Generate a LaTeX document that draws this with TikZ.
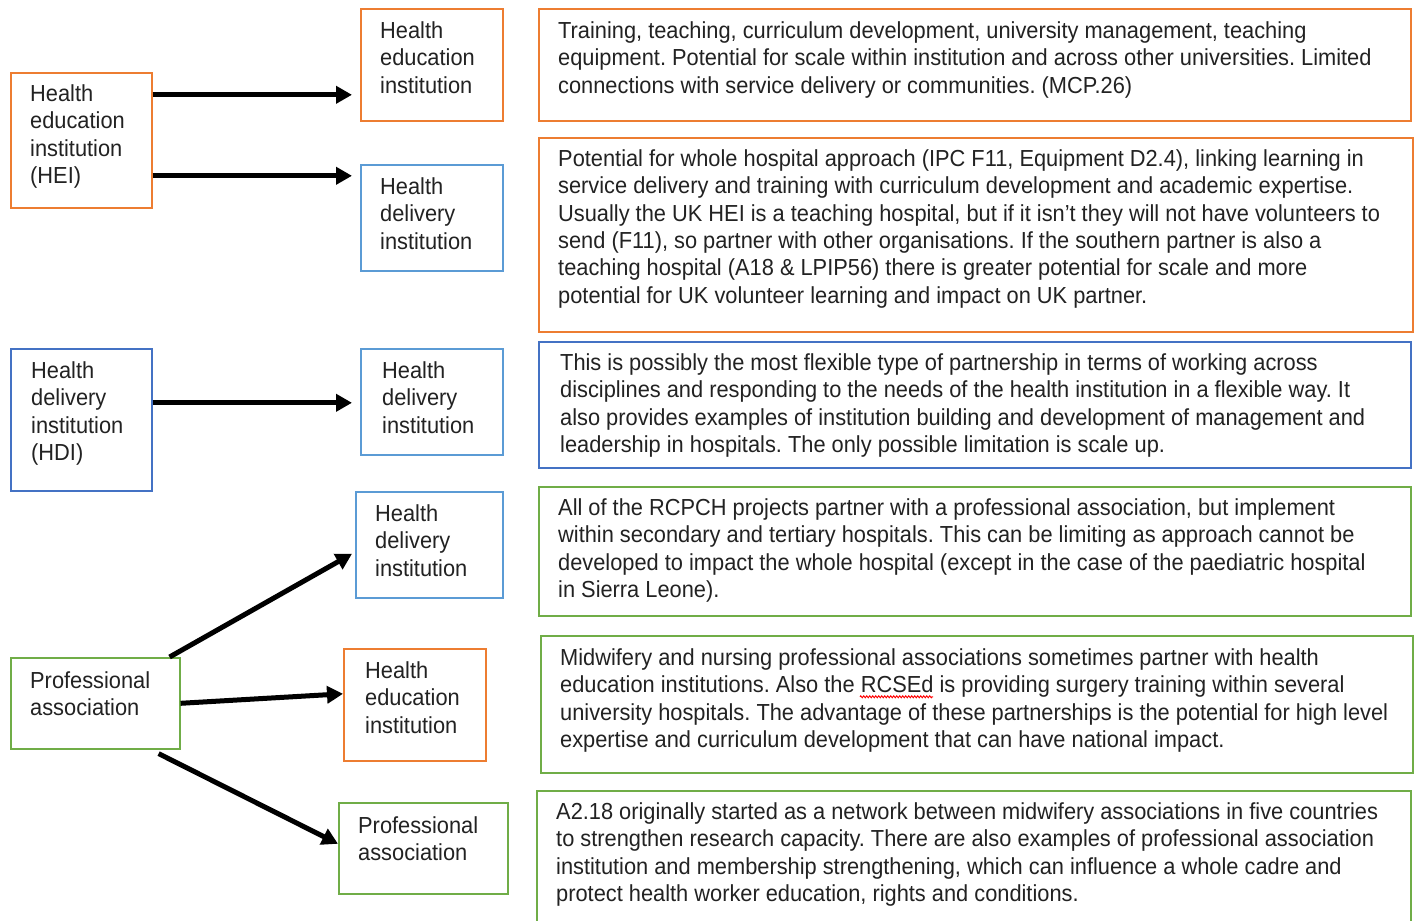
\documentclass[tikz,border=0pt]{standalone}
\usepackage{fontspec}
\setmainfont{Liberation Sans}[FakeStretch=0.94]
\usetikzlibrary{arrows.meta,calc,decorations.pathmorphing}
\frenchspacing
\newsavebox\wavebox
\newcommand\redwave[1]{\sbox\wavebox{#1}\usebox\wavebox\llap{\tikz[baseline=(wvb.base)]{\node[inner sep=0pt, execute at begin node={}] (wvb) {\phantom{\usebox\wavebox}};\draw[red, line width=0.9pt, decorate, decoration={zigzag,amplitude=1pt,segment length=3pt}] ([yshift=-4pt]wvb.base west) -- ([yshift=-4pt]wvb.base east);}}}
\definecolor{orng}{HTML}{ED7D31}
\definecolor{blu}{HTML}{4472C4}
\definecolor{lblu}{HTML}{5B9BD5}
\definecolor{grn}{HTML}{70AD47}
\definecolor{txtc}{HTML}{222222}
\tikzset{
  box/.style={draw=#1, line width=1.6pt, anchor=north west, inner sep=0pt},
  txt/.style={anchor=north west, align=left, inner sep=0pt, text=txtc,
    font=\fontsize{23.2}{27.3}\selectfont\frenchspacing, execute at begin node=\strut},
  arr/.style={line width=5pt, -{Triangle[length=16pt,width=17pt]}},
}
\begin{document}
\begin{tikzpicture}[x=1pt,y=-1pt]
\useasboundingbox (0,0) rectangle (1417,921);
\clip (0,0) rectangle (1417,921);
\fill[white] (0,0) rectangle (1417,921);

% ---- group 1: HEI ----
\node[box=orng, minimum width=141pt, minimum height=135pt] (heiL) at (10,72) {};
\node[txt] (heiLt) at (30,84.5) {Health\\education\\institution\\(HEI)};
\node[box=orng, minimum width=142pt, minimum height=112pt] (heiR1) at (360,8) {};
\node[txt] (heiR1t) at (380,21.5) {Health\\education\\institution};
\node[box=lblu, minimum width=142pt, minimum height=106pt] (hdiR1) at (360,164) {};
\node[txt] (hdiR1t) at (380,177.5) {Health\\delivery\\institution};
\node[box=orng, minimum width=872pt, minimum height=112pt] (t1) at (538,8) {};
\node[txt] (t1t) at (558,21.5) {Training, teaching, curriculum development, university management, teaching\\
equipment. Potential for scale within institution and across other universities. Limited\\
connections with service delivery or communities. (MCP.26)};
\node[box=orng, minimum width=874pt, minimum height=194pt] (t2) at (538,137) {};
\node[txt] (t2t) at (558,149.5) {Potential for whole hospital approach (IPC F11, Equipment D2.4), linking learning in\\
service delivery and training with curriculum development and academic expertise.\\
Usually the UK HEI is a teaching hospital, but if it isn’t they will not have volunteers to\\
send (F11), so partner with other organisations. If the southern partner is also a\\
teaching hospital (A18 \& LPIP56) there is greater potential for scale and more\\
potential for UK volunteer learning and impact on UK partner.};
\draw[arr] ([yshift=45.5pt]heiL.east) -- ([yshift=45.5pt, xshift=-8pt]heiL.east -| heiR1.west);
\draw[arr] ([yshift=-35.5pt]heiL.east) -- ([yshift=-35.5pt, xshift=-8pt]heiL.east -| hdiR1.west);

% ---- group 2: HDI ----
\node[box=blu, minimum width=141pt, minimum height=142pt] (hdiL) at (10,348) {};
\node[txt] (hdiLt) at (31,361.5) {Health\\delivery\\institution\\(HDI)};
\node[box=lblu, minimum width=142pt, minimum height=106pt] (hdiR2) at (360,348) {};
\node[txt] (hdiR2t) at (382,361.5) {Health\\delivery\\institution};
\node[box=blu, minimum width=872pt, minimum height=126pt] (t3) at (538,341) {};
\node[txt] (t3t) at (560,353.5) {This is possibly the most flexible type of partnership in terms of working across\\
disciplines and responding to the needs of the health institution in a flexible way. It\\
also provides examples of institution building and development of management and\\
leadership in hospitals. The only possible limitation is scale up.};
\draw[arr] ([yshift=17pt]hdiL.east) -- ([yshift=17pt, xshift=-8pt]hdiL.east -| hdiR2.west);

% ---- group 3: professional association ----
\node[box=lblu, minimum width=147pt, minimum height=106pt] (hdiR3) at (355,491) {};
\node[txt] (hdiR3t) at (375,504.5) {Health\\delivery\\institution};
\node[box=grn, minimum width=872pt, minimum height=129pt] (t4) at (538,486) {};
\node[txt] (t4t) at (558,498.5) {All of the RCPCH projects partner with a professional association, but implement\\
within secondary and tertiary hospitals. This can be limiting as approach cannot be\\
developed to impact the whole hospital (except in the case of the paediatric hospital\\
in Sierra Leone).};
\node[box=grn, minimum width=169pt, minimum height=91pt] (paL) at (10,657) {};
\node[txt] (paLt) at (30,671.5) {Professional\\association};
\node[box=orng, minimum width=142pt, minimum height=112pt] (heiR3) at (343,648) {};
\node[txt] (heiR3t) at (365,661.5) {Health\\education\\institution};
\node[box=grn, minimum width=872pt, minimum height=137pt] (t5) at (540,635) {};
\node[txt] (t5t) at (560,648.5) {Midwifery and nursing professional associations sometimes partner with health\\
education institutions. Also the \redwave{RCSEd} is providing surgery training within several\\
university hospitals. The advantage of these partnerships is the potential for high level\\
expertise and curriculum development that can have national impact.};
\node[box=grn, minimum width=169pt, minimum height=91pt] (paR) at (338,802) {};
\node[txt] (paRt) at (358,816.5) {Professional\\association};
\node[box=grn, minimum width=874pt, minimum height=160pt] (t6) at (536,790) {};
\node[txt] (t6t) at (556,802.5) {A2.18 originally started as a network between midwifery associations in five countries\\
to strengthen research capacity. There are also examples of professional association\\
institution and membership strengthening, which can influence a whole cadre and\\
protect health worker education, rights and conditions.};

\draw[arr] ([xshift=-11pt]paL.north east) -- ([xshift=-3pt, yshift=-9pt]hdiR3.west);
\draw[arr] (paL.east) -- ([yshift=11pt]heiR3.west);
\draw[arr] ([xshift=-22pt, yshift=-4pt]paL.south east) -- ([yshift=4.5pt]paR.west);
\end{tikzpicture}
\end{document}
